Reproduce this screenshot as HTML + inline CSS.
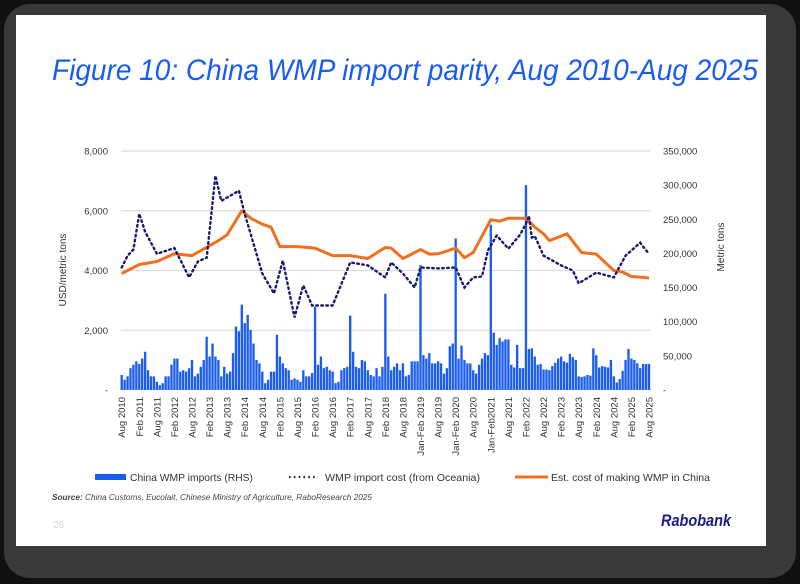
<!DOCTYPE html>
<html><head><meta charset="utf-8"><style>
html,body{margin:0;padding:0;background:#111;}
body{width:800px;height:579px;overflow:hidden;position:relative;font-family:"Liberation Sans",sans-serif;}
</style></head><body>
<svg id="c" width="800" height="579" viewBox="0 0 800 579" xmlns="http://www.w3.org/2000/svg">
<rect x="4" y="4" width="792" height="574" rx="26" fill="#3a3a3a"/>
<rect x="16" y="15" width="750" height="531" fill="#ffffff"/>
<text x="52" y="80" font-size="30" font-style="italic" fill="#1a5cf0" textLength="706" lengthAdjust="spacingAndGlyphs">Figure 10: China WMP import parity, Aug 2010-Aug 2025</text>
<g id="grid"></g><g id="bars"></g><g id="lines"></g><g id="axes"></g>
<text transform="translate(66,270) rotate(-90)" text-anchor="middle" font-size="10" fill="#333">USD/metric tons</text>
<text transform="translate(724,247) rotate(-90)" text-anchor="middle" font-size="10" fill="#333">Metric tons</text>
<g>
<rect x="95" y="474" width="31" height="6" fill="#1a5cf0"/>
<text x="130" y="481" font-size="10.5" fill="#333" textLength="123" lengthAdjust="spacingAndGlyphs">China WMP imports (RHS)</text>
<line x1="289" y1="477" x2="318" y2="477" stroke="#1a1a6e" stroke-width="2.2" stroke-dasharray="1.6 3.2"/>
<text x="325" y="481" font-size="10.5" fill="#333" textLength="155" lengthAdjust="spacingAndGlyphs">WMP import cost (from Oceania)</text>
<line x1="515" y1="477" x2="548" y2="477" stroke="#f07020" stroke-width="3"/>
<text x="551" y="481" font-size="10.5" fill="#333" textLength="159" lengthAdjust="spacingAndGlyphs">Est. cost of making WMP in China</text>
</g>
<text x="52" y="500" font-size="8" font-style="italic" fill="#444" textLength="320" lengthAdjust="spacingAndGlyphs"><tspan font-weight="bold">Source:</tspan> China Customs, Eucolait, Chinese Ministry of Agriculture, RaboResearch 2025</text>
<text x="53" y="528" font-size="10" fill="#d8d8d8">26</text>
<text x="661" y="526" font-size="17" font-weight="bold" font-style="italic" fill="#1a1a8c" textLength="70" lengthAdjust="spacingAndGlyphs">Rabobank</text>
</svg>
<script>
const imports = [22,15,20,32,37, 42,38,46,56,29,20,20, 12,7,10,20,20, 37,46,46,27,29,27,32, 44,20,24,34,44, 78,49,68,49,44,20,34, 24,27,54,93,86, 125,98,110,88,68,44,39, 27,10,15,27,27, 81,49,39,32,29,15,17, 15,12,29,20,20, 25,122,37,49,32,34,29, 27,10,12,29,32, 34,109,56,34,32,44,42, 29,22,20,32,20, 34,141,49,29,34,39,29, 39,20,22,42,42, 42,183,51,46,54,39,39, 42,39,24,32,64,68,222,46,65,44,39,39, 29,24,37,46,54,51,242,84,66,76,71,74, 74,37,33,66,32,32,300,60,61,49,37,38, 30,30,29,35,40,46,49,42,40,53,48,44, 20,19,20,22,21,61,51,33,35,34,33,44, 20,11,16,28,44,60,46,44,39,32,38,38,38];
const chinaCostMonths = [0,3,6,9,12,18,24,30,33,36,41,44,48,51,54,60,66,72,78,84,90,92,96,102,105,108,111,114,117,120,126,129,132,138,141,144,146,152,157,162,168,171,174,180];
const chinaCostValues = [3900,4050,4200,4250,4300,4560,4500,4830,5000,5200,6000,5750,5550,5450,4800,4800,4750,4500,4500,4400,4770,4750,4400,4700,4550,4560,4650,4750,4430,4600,5700,5650,5750,5750,5450,5230,5000,5230,4600,4550,4000,3950,3800,3750];
const importCostMonths = [0,2,4,6,8,12,18,23,26,29,32,34,37,40,42,48,52,55,59,62,65,72,78,84,90,92,96,100,102,108,114,117,120,123,125,128,132,136,138,139,140,141,144,150,154,156,162,168,172,174,177,178,180];
const importCostValues = [4100,4500,4700,5900,5300,4560,4750,3770,4300,4430,7170,6330,6500,6670,5900,3900,3230,4330,2430,3500,2830,2830,4270,4170,3770,4270,3900,3430,4100,4070,4100,3430,3770,3800,4670,5170,4730,5200,5570,5830,5100,5150,4500,4170,4000,3570,3930,3770,4500,4670,4930,4800,4560];
const leftTicks = [0,2000,4000,6000,8000];
const leftTickLabels = ["-","2,000","4,000","6,000","8,000"];
const rightTicks = [0,50000,100000,150000,200000,250000,300000,350000];
const rightTickLabels = ["-","50,000","100,000","150,000","200,000","250,000","300,000","350,000"];
const xLabelMonths = [0,6,12,18,24,30,36,42,48,54,60,66,72,78,84,90,96,102,108,114,120,126,132,138,144,150,156,162,168,174,180];
const xLabels = ["Aug 2010","Feb 2011","Aug 2011","Feb 2012","Aug 2012","Feb 2013","Aug 2013","Feb 2014","Aug 2014","Feb 2015","Aug 2015","Feb 2016","Aug 2016","Feb 2017","Aug 2017","Feb 2018","Aug 2018","Jan-Feb 2019","Aug 2019","Jan-Feb 2020","Aug 2020","Jan-Feb2021","Aug 2021","Feb 2022","Aug 2022","Feb 2023","Aug 2023","Feb 2024","Aug 2024","Feb 2025","Aug 2025"];

const NS="http://www.w3.org/2000/svg";
const X0=121.7, X1=649, Y0=390, YT=151;
const x = m => X0 + m*(X1-X0)/180;
const yL = v => Y0 - v/8000*(Y0-YT);
const yR = v => Y0 - v/350000*(Y0-YT);
function mk(tag, attrs, parent){const e=document.createElementNS(NS,tag);for(const k in attrs)e.setAttribute(k,attrs[k]);document.getElementById(parent).appendChild(e);return e;}

leftTicks.forEach((t,i)=>{
  if(t>0){const g=mk('line',{x1:121,x2:650,y1:yL(t),y2:yL(t),stroke:'#dcdcdc','stroke-width':1.2},'grid');
  
  }
  const l=mk('text',{x:108,y:yL(t)+3.5,'text-anchor':'end','font-size':9.5,fill:'#333'},'axes');
  l.textContent=leftTickLabels[i];
  
  
});
rightTicks.forEach((t,i)=>{
  const l=mk('text',{x:663,y:yR(t)+3.5,'font-size':9.5,fill:'#333'},'axes');
  l.textContent=rightTickLabels[i];
  
  
});
xLabelMonths.forEach((m,i)=>{
  const l=mk('text',{transform:`translate(${x(m)+3.5},397) rotate(-90)`,'text-anchor':'end','font-size':9.5,fill:'#333'},'axes');
  l.textContent=xLabels[i];
  
  
});
const bw=(X1-X0)/180*0.8;
imports.forEach((v,m)=>{
  const h=Y0-yR(v*1000);
  const b=mk('rect',{x:x(m)-bw/2,y:Y0-h,width:bw,height:h,fill:'#1a5cf0'},'bars');
  
  
});
const pc=chinaCostMonths.map((m,i)=>`${i?'L':'M'}${x(m).toFixed(1)},${yL(chinaCostValues[i]).toFixed(1)}`).join('');
const p1=mk('path',{d:pc,fill:'none',stroke:'#f07020','stroke-width':3,'stroke-linejoin':'round'},'lines');


const pi=importCostMonths.map((m,i)=>`${i?'L':'M'}${x(m).toFixed(1)},${yL(importCostValues[i]).toFixed(1)}`).join('');
const p2=mk('path',{d:pi,fill:'none',stroke:'#1a1a6e','stroke-width':2.4,'stroke-dasharray':'1.6 3.4','stroke-linecap':'round'},'lines');


</script>
</body></html>
